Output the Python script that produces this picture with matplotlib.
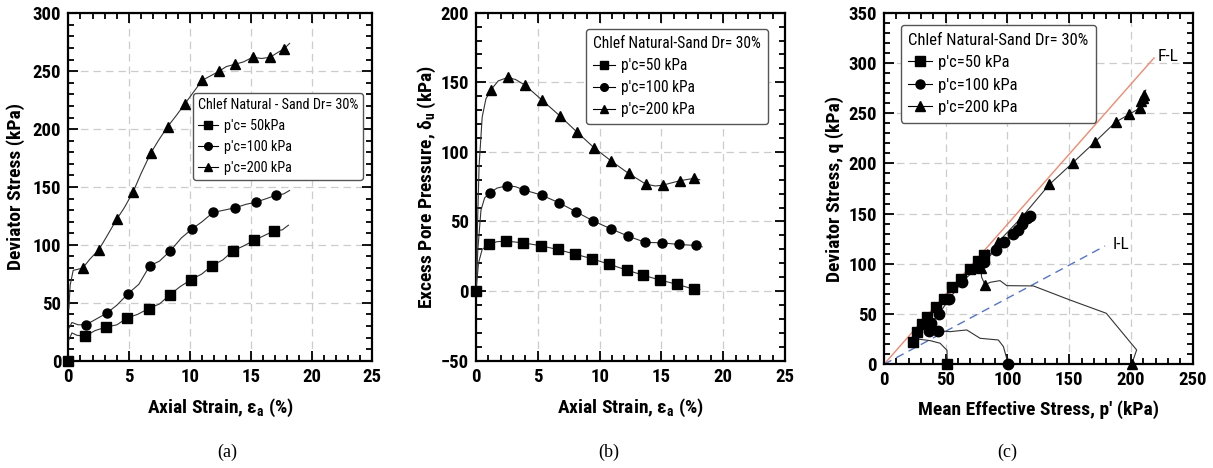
import matplotlib
matplotlib.use("Agg")
import matplotlib.pyplot as plt
from matplotlib import font_manager
from matplotlib.ticker import MultipleLocator

names = {f.name for f in font_manager.fontManager.ttflist}


def pick_narrow():
    for n in ["Liberation Sans Narrow", "Arial Narrow", "Roboto Condensed",
              "Open Sans Condensed", "Nimbus Sans Narrow", "DejaVu Sans Condensed"]:
        if n in names:
            return n, "normal"
    for f in font_manager.fontManager.ttflist:
        if f.name == "DejaVu Sans" and "ondensed" in f.fname:
            return "DejaVu Sans", "condensed"
    return "Liberation Sans", "normal"


NARROW, STRETCH = pick_narrow()
SERIF = "Liberation Serif"

# ---------------- data: panel (a) deviator stress vs axial strain ----------------
a_mk_str_50 = [0, 1.37, 3.1, 4.85, 6.6, 8.36, 10.1, 11.8, 13.56, 15.3, 16.9]
a_mk_q_50 = [0, 21, 29, 37, 45, 57, 70, 82, 95, 104, 112]
a_mk_str_100 = [1.45, 3.15, 4.93, 6.7, 8.4, 10.2, 11.9, 13.7, 15.45, 17.1]
a_mk_q_100 = [31, 41, 58, 82, 95, 114, 128, 132, 137, 143]
a_mk_str_200 = [1.18, 2.52, 3.97, 5.34, 6.77, 8.16, 9.6, 11.0, 12.4, 13.7, 15.15, 16.6, 17.7]
a_mk_q_200 = [80, 96, 122, 146, 179, 202, 222, 242, 250, 256, 262, 262, 269]

a_ln_str_50 = [0.05, 0.3, 0.7, 1.37, 2.2, 3.1, 4.0, 4.85, 5.7, 6.6, 7.5, 8.36, 9.2, 10.1,
               11.0, 11.8, 12.7, 13.56, 14.4, 15.3, 16.1, 16.9, 17.6, 18.1]
a_ln_q_50 = [18, 24, 22, 21, 26, 29, 31, 37, 40, 45, 49, 57, 64, 70,
             75, 82, 87, 95, 99, 104, 108, 112, 113, 117]
a_ln_str_100 = [0.05, 0.3, 0.8, 1.45, 2.3, 3.15, 4.0, 4.93, 5.8, 6.7, 7.5, 8.4, 9.3, 10.2,
                11.0, 11.9, 12.8, 13.7, 14.6, 15.45, 16.3, 17.1, 17.7, 18.2]
a_ln_q_100 = [28, 33, 31, 31, 36, 41, 48, 58, 66, 82, 86, 95, 106, 114,
              120, 128, 130, 132, 135, 137, 140, 143, 144, 147]
a_ln_str_200 = [0.05, 0.15, 0.4, 0.8, 1.18, 1.8, 2.52, 3.2, 3.97, 4.6, 5.34, 6.0, 6.77, 7.4,
                8.16, 8.9, 9.6, 10.3, 11.0, 11.7, 12.4, 13.0, 13.7, 14.4, 15.15, 15.9,
                16.6, 17.2, 17.7, 18.2]
a_ln_q_200 = [45, 65, 78, 79, 80, 88, 96, 108, 122, 132, 146, 162, 179, 190,
              202, 212, 222, 232, 242, 246, 250, 254, 256, 258, 262, 261,
              262, 266, 269, 274]

# ---------------- data: panel (b) excess pore pressure vs axial strain ----------------
b_mk_str_50 = [0, 1.05, 2.43, 3.8, 5.23, 6.6, 8.0, 9.4, 10.8, 12.2, 13.5, 14.9, 16.3, 17.6]
b_mk_u_50 = [0, 33.5, 35.9, 34.7, 32.6, 29.9, 26.6, 23.2, 19.2, 15.1, 11.5, 7.9, 4.8, 1.4]
b_mk_str_100 = [1.1, 2.5, 3.9, 5.3, 6.7, 8.1, 9.5, 10.9, 12.3, 13.7, 15.05, 16.4, 17.8]
b_mk_u_100 = [70.4, 75.7, 72.6, 69, 63.5, 57, 50.3, 44.8, 39.5, 35, 34.7, 33.5, 32.8]
b_mk_str_200 = [1.19, 2.56, 3.96, 5.37, 6.77, 8.14, 9.55, 10.95, 12.35, 13.73, 15.1, 16.5, 17.64]
b_mk_u_200 = [144.4, 153.5, 148, 137, 126, 114.5, 103, 93.4, 84.5, 76.9, 76.1, 79.3, 81]

b_ln_str_50 = [0, 0.2, 0.5, 1.05, 1.7, 2.43, 3.8, 5.23, 6.6, 8.0, 9.4, 10.8, 12.2, 13.5,
               14.9, 16.3, 17.6, 18.1]
b_ln_u_50 = [0, 20, 30, 33.5, 35.5, 35.9, 34.7, 32.6, 29.9, 26.6, 23.2, 19.2, 15.1, 11.5,
             7.9, 4.8, 1.4, 1.2]
b_ln_str_100 = [0, 0.15, 0.4, 0.7, 1.1, 1.7, 2.5, 3.2, 3.9, 5.3, 6.7, 8.1, 9.5, 10.9,
                12.3, 13.7, 15.05, 16.4, 17.8, 18.3]
b_ln_u_100 = [0, 30, 58, 67, 70.4, 74, 75.7, 75, 72.6, 69, 63.5, 57, 50.3, 44.8,
              39.5, 35, 34.7, 33.5, 32.8, 31.8]
b_ln_str_200 = [0, 0.1, 0.25, 0.5, 0.8, 1.19, 1.8, 2.56, 3.2, 3.96, 5.37, 6.77, 8.14, 9.55,
                10.95, 12.35, 13.73, 14.5, 15.1, 16.5, 17.64, 18.1]
b_ln_u_200 = [0, 40, 90, 125, 138, 144.4, 151, 153.5, 152, 148, 137, 126, 114.5, 103,
              93.4, 84.5, 76.9, 75.5, 76.1, 79.3, 81, 80]

# ---------------- data: panel (c) stress paths ----------------
c_mk_p_50 = [51.3, 23.8, 27, 31, 35, 42, 48.6, 55, 62, 70, 76, 81]
c_mk_q_50 = [0, 22.5, 32.5, 40, 47, 57, 65, 77, 85, 95, 103, 109]
c_mk_p_100 = [100.7, 43.5, 36.5, 38, 44.5, 52.6, 63.4, 76.4, 81, 90.4, 97.2, 104.8, 108.8, 111.5, 115.6, 118.3]
c_mk_q_100 = [0, 33, 33.5, 41, 50, 64.7, 82.3, 97.2, 102, 113.8, 122, 130, 133.7, 139.7, 145.3, 148]
c_mk_p_200 = [200.6, 81.8, 78.5, 92.7, 112, 133.9, 152.8, 171, 187.5, 198.8, 207, 209.5, 208.5, 210.5]
c_mk_q_200 = [0, 79, 96, 122, 147, 179, 200.5, 221.5, 241, 249, 255, 265, 262, 268]

c_ln_p_50 = [51.3, 51, 45.4, 37.3, 28, 23.8, 27, 31, 35, 42, 48.6, 55, 62, 70, 76, 81, 84]
c_ln_q_50 = [0, 14, 21, 23.6, 25, 22.5, 32.5, 40, 47, 57, 65, 77, 85, 95, 103, 109, 114]
c_ln_p_100 = [100.7, 96.7, 92.6, 77.8, 67, 53.5, 47, 43.5, 36.5, 38, 44.5, 52.6, 63.4, 76.4, 81,
              90.4, 97.2, 104.8, 108.8, 111.5, 115.6, 118.3]
c_ln_q_100 = [0, 17.6, 24.2, 25.9, 34.2, 32.5, 33, 33, 33.5, 41, 50, 64.7, 82.3, 97.2, 102,
              113.8, 122, 130, 133.7, 139.7, 145.3, 148]
c_ln_p_200 = [200.6, 204.6, 180, 150.6, 121, 99.4, 94, 85.9, 81.8, 79, 78.5, 92.7, 112, 133.9,
              152.8, 171, 187.5, 198.8, 207, 209.5, 208.5, 210.5, 212]
c_ln_q_200 = [0, 14.3, 50.8, 64, 78, 78.3, 83.3, 81.6, 79, 87, 96, 122, 147, 179,
              200.5, 221.5, 241, 249, 255, 265, 262, 268, 273]

fl_p = [0, 218.7]
fl_q = [0, 305]
il_p = [0, 179]
il_q = [0, 117.8]

legend_labels_a = ["p'c= 50kPa", "p'c=100 kPa", "p'c=200 kPa"]
legend_labels_bc = ["p'c=50 kPa", "p'c=100 kPa", "p'c=200 kPa"]

# ---------------- figure ----------------
W, H = 1213, 468
fig = plt.figure(figsize=(W / 100, H / 100), dpi=100)


def ax_at(l, t, r, b):
    return fig.add_axes([l / W, 1 - b / H, (r - l) / W, (b - t) / H])


axa = ax_at(68.3, 13.3, 372.3, 360.7)
axb = ax_at(476, 12.7, 785, 360.7)
axc = ax_at(884, 12.7, 1192.7, 364.3)

condensed = NARROW != "Liberation Sans"
TICK_FS = 13.5 if condensed else 12
LAB_FS = 14 if condensed else 12.5
lab_font = dict(family=NARROW, stretch=STRETCH, weight="bold", size=LAB_FS)
MS = 6.5
LC = "#333333"


def style(ax, xmaj, xmin, ymaj, ymin):
    ax.xaxis.set_major_locator(MultipleLocator(xmaj))
    ax.xaxis.set_minor_locator(MultipleLocator(xmin))
    ax.yaxis.set_major_locator(MultipleLocator(ymaj))
    ax.yaxis.set_minor_locator(MultipleLocator(ymin))
    ax.tick_params(which="both", direction="in", top=True, right=True, width=1.3, color="black")
    ax.tick_params(which="major", length=7, pad=5)
    ax.tick_params(which="minor", length=4)
    for s in ax.spines.values():
        s.set_linewidth(1.6)
    ax.grid(True, which="major", color="#cccccc", linestyle=(0, (6, 4)), linewidth=0.9)
    ax.set_axisbelow(True)
    for lbl in ax.get_xticklabels() + ax.get_yticklabels():
        lbl.set_fontfamily(NARROW)
        lbl.set_fontstretch(STRETCH)
        lbl.set_fontweight("heavy")
        lbl.set_fontsize(TICK_FS)


def series(ax, lx, ly, mx, my, marker, label, z, ms=MS):
    ax.plot(lx, ly, color=LC, lw=0.8, zorder=z)
    ax.plot(mx, my, linestyle="none", marker=marker, color="black", ms=ms, zorder=z + 0.5,
            clip_on=False)
    h, = ax.plot([], [], color="black", lw=0.8, marker=marker, ms=ms - 1, label=label)
    return h


def legend(ax, handles, title, loc, fs, spacing, pad):
    prop = dict(family=NARROW, stretch=STRETCH, size=fs)
    leg = ax.legend(handles=handles, title=title, loc="upper left", bbox_to_anchor=loc,
                    borderaxespad=0, fancybox=True, framealpha=1, edgecolor="#555555",
                    handlelength=1.4, handletextpad=0.4, borderpad=pad, labelspacing=spacing,
                    prop=prop, title_fontproperties=prop)
    leg.get_frame().set_linewidth(1.0)
    leg._legend_box.align = "left"
    leg.set_zorder(10)
    return leg


k = 1.0 if condensed else 0.9

# panel (a)
h50 = series(axa, a_ln_str_50, a_ln_q_50, a_mk_str_50, a_mk_q_50, "s", legend_labels_a[0], 4)
h100 = series(axa, a_ln_str_100, a_ln_q_100, a_mk_str_100, a_mk_q_100, "o", legend_labels_a[1], 3)
h200 = series(axa, a_ln_str_200, a_ln_q_200, a_mk_str_200, a_mk_q_200, "^", legend_labels_a[2], 3)
axa.set_xlim(0, 25)
axa.set_ylim(0, 300)
style(axa, 5, 1, 50, 10)
axa.set_xlabel(r"Axial Strain, $\mathregular{ε_a}$ (%)", **lab_font, labelpad=8)
axa.set_ylabel("Deviator Stress (kPa)", **lab_font, labelpad=6)
legend(axa, [h50, h100, h200], "Chlef Natural - Sand Dr= 30%", (0.41, 0.771), 10.3 * k, 0.5, 0.35)

# panel (b)
h50 = series(axb, b_ln_str_50, b_ln_u_50, b_mk_str_50, b_mk_u_50, "s", legend_labels_bc[0], 4)
h100 = series(axb, b_ln_str_100, b_ln_u_100, b_mk_str_100, b_mk_u_100, "o", legend_labels_bc[1], 3)
h200 = series(axb, b_ln_str_200, b_ln_u_200, b_mk_str_200, b_mk_u_200, "^", legend_labels_bc[2], 3)
axb.set_xlim(0, 25)
axb.set_ylim(-50, 200)
style(axb, 5, 1, 50, 10)
axb.set_xlabel(r"Axial Strain, $\mathregular{ε_a}$ (%)", **lab_font, labelpad=8)
axb.set_ylabel(r"Excess Pore Pressure, $\mathregular{δ_u}$ (kPa)", **lab_font, labelpad=2)
legend(axb, [h50, h100, h200], "Chlef Natural-Sand Dr= 30%", (0.356, 0.953), 11.2 * k, 0.45, 0.45)

# panel (c)
axc.plot(fl_p, fl_q, color="#f08a70", lw=1.0, zorder=2)
axc.plot(il_p, il_q, color="#5575c5", lw=1.0, linestyle=(0, (6, 4)), zorder=2)
h50 = series(axc, c_ln_p_50, c_ln_q_50, c_mk_p_50, c_mk_q_50, "s", legend_labels_bc[0], 4, ms=7.5)
h100 = series(axc, c_ln_p_100, c_ln_q_100, c_mk_p_100, c_mk_q_100, "o", legend_labels_bc[1], 3, ms=7.5)
h200 = series(axc, c_ln_p_200, c_ln_q_200, c_mk_p_200, c_mk_q_200, "^", legend_labels_bc[2], 3, ms=7.5)
axc.text(fl_p[1] + 3, fl_q[1] + 1, "F-L", family=NARROW, stretch=STRETCH, size=12.5,
         ha="left", va="center")
axc.text(il_p[1] + 6, il_q[1] + 1, "I-L", family=NARROW, stretch=STRETCH, size=12.5,
         ha="left", va="center")
axc.set_xlim(0, 250)
axc.set_ylim(0, 350)
style(axc, 50, 10, 50, 10)
axc.set_xlabel("Mean Effective Stress, p' (kPa)", **lab_font, labelpad=8)
axc.set_ylabel("Deviator Stress, q (kPa)", **lab_font, labelpad=3)
legend(axc, [h50, h100, h200], "Chlef Natural-Sand Dr= 30%", (0.054, 0.965), 12 * k, 0.45, 0.45)

for x, s in [(227, "(a)"), (609, "(b)"), (1007, "(c)")]:
    fig.text(x / W, 1 - 452 / H, s, family=SERIF, size=13, ha="center", va="center")

fig.savefig("out.png", dpi=100)
